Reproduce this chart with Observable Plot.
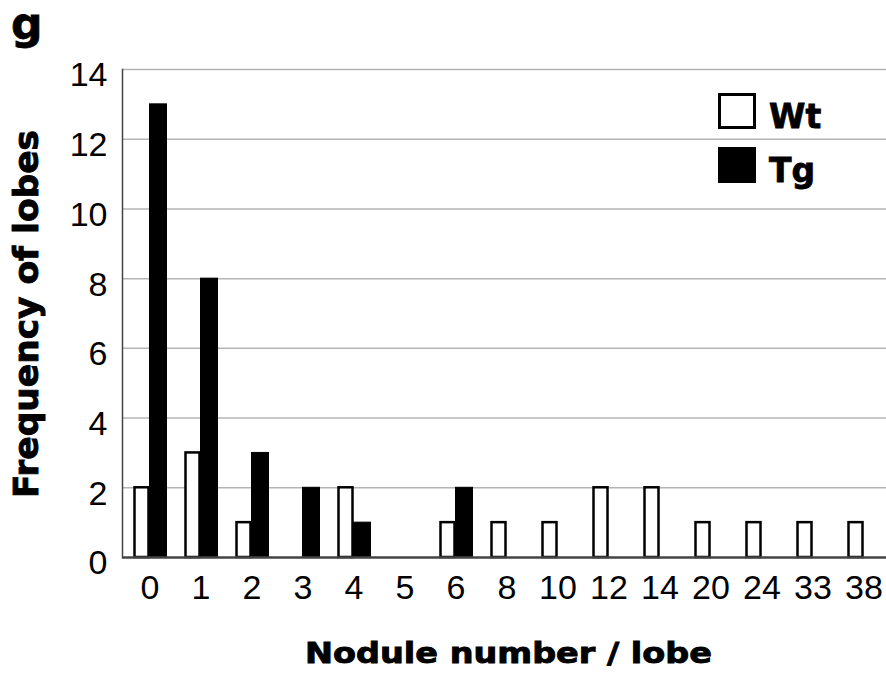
<!DOCTYPE html>
<html>
<head>
<meta charset="utf-8">
<script src="https://cdn.jsdelivr.net/npm/d3@7"></script>
<script src="https://cdn.jsdelivr.net/npm/@observablehq/plot@0.6"></script>
<style>
  html, body { margin: 0; padding: 0; background: #fff; }
</style>
</head>
<body>
<div id="chart"></div>
<script>
const categories = ["0","1","2","3","4","5","6","8","10","12","14","20","24","33","38"];
const wtValues = [2,3,1,0,2,0,1,1,1,2,2,1,1,1,1];
const tgValues = [13,8,3,2,1,0,2,0,0,0,0,0,0,0,0];
const yTicks = [0,2,4,6,8,10,12,14];
const seriesNames = ["Wt","Tg"];
const panelLetter = "g";
const xTitle = "Nodule number / lobe";
const yTitle = "Frequency of lobes";

const wtData = categories.map((c, i) => ({cat: c, v: wtValues[i]})).filter(d => d.v > 0);
const tgData = categories.map((c, i) => ({cat: c, v: tgValues[i]})).filter(d => d.v > 0);

const W = 886, H = 673;
const plot = Plot.plot({
  width: W,
  height: H,
  marginLeft: 122,
  marginRight: 0,
  marginTop: 69,
  marginBottom: 116,
  style: {fontFamily: "'Liberation Sans', Arial, sans-serif", fontSize: "34px", color: "#000", background: "#fff"},
  x: {domain: categories, padding: 0, range: [124, 889], label: null},
  y: {domain: [0, 14], label: null},
  marks: [
    Plot.gridY(yTicks.filter(t => t > 0), {stroke: "#b4b4b4", strokeOpacity: 1, strokeWidth: 1.5}),
    Plot.barY(wtData, {x: "cat", y: "v", fill: "white", stroke: "black", strokeWidth: 2.5, insetLeft: 10.5, insetRight: 26.5}),
    Plot.barY(tgData, {x: "cat", y: "v", fill: "black", stroke: "black", strokeWidth: 1, insetLeft: 25.5, insetRight: 8.5}),
    Plot.ruleY([0], {stroke: "#444", strokeWidth: 2.5}),
    Plot.frame({anchor: "left", stroke: "#444", strokeWidth: 1.5}),
    Plot.axisY({ticks: yTicks, tickSize: 0, tickPadding: 15, dy: 6, label: null, fontSize: 34}),
    Plot.axisX({tickSize: 0, tickPadding: 17, label: null, fontSize: 34})
  ]
});
document.getElementById("chart").appendChild(plot);

const svg = d3.select(plot);
const boldFont = "'DejaVu Sans', sans-serif";
// panel letter
svg.append("text").attr("x", 11).attr("y", 39).attr("text-anchor", "start")
  .attr("font-family", boldFont).attr("font-weight", "bold").attr("font-size", 44)
  .attr("fill", "#000").attr("stroke", "#000").attr("stroke-width", 0.8).text(panelLetter);
// y title
svg.append("text").attr("transform", "translate(37.5,314) rotate(-90)")
  .attr("text-anchor", "middle")
  .attr("font-family", boldFont).attr("font-weight", "bold").attr("font-size", 33)
  .attr("textLength", 368).attr("lengthAdjust", "spacingAndGlyphs")
  .attr("fill", "#000").attr("stroke", "#000").attr("stroke-width", 0.9).text(yTitle);
// x title
svg.append("text").attr("x", 508.5).attr("y", 663)
  .attr("text-anchor", "middle")
  .attr("font-family", boldFont).attr("font-weight", "bold").attr("font-size", 29)
  .attr("textLength", 407).attr("lengthAdjust", "spacingAndGlyphs")
  .attr("fill", "#000").attr("stroke", "#000").attr("stroke-width", 0.9).text(xTitle);
// legend
const legend = svg.append("g");
legend.append("rect").attr("x", 719.5).attr("y", 94.5).attr("width", 35).attr("height", 33)
  .attr("fill", "white").attr("stroke", "black").attr("stroke-width", 3);
legend.append("rect").attr("x", 718).attr("y", 147).attr("width", 38).attr("height", 36)
  .attr("fill", "black");
legend.selectAll("text.lg").data(seriesNames).join("text")
  .attr("x", 769).attr("y", (d, i) => i === 0 ? 128 : 182).attr("text-anchor", "start")
  .attr("font-family", boldFont).attr("font-weight", "bold").attr("font-size", 33)
  .attr("fill", "#000").attr("stroke", "#000").attr("stroke-width", 0.8).text(d => d);
</script>
</body>
</html>
